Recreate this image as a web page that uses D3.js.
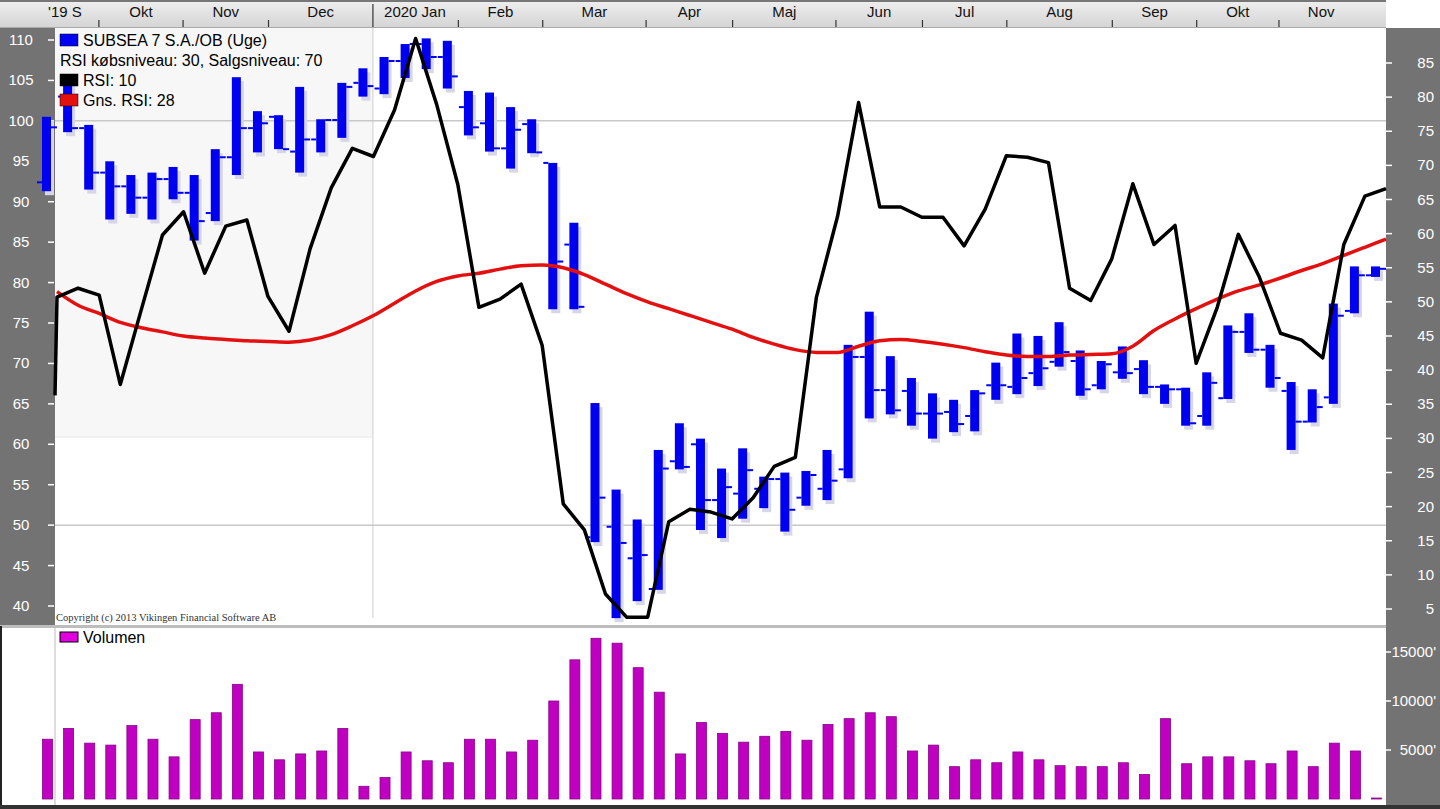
<!DOCTYPE html>
<html><head><meta charset="utf-8">
<script src="https://cdn.jsdelivr.net/npm/d3@7"></script>
<style>body{margin:0;background:#fff;overflow:hidden}text{font-family:"Liberation Sans",Arial,sans-serif}</style>
</head><body><div id="chart"></div>
<script>
// weekly OHLC, Sep 2019 - Nov 2020
const opens  = [92.4,103,99.1,93.6,91.9,90.5,92.8,91.1,88.6,95.5,99.1,100.5,96.2,97.7,100.1,104.7,104.0,107.4,109.5,107.9,101.7,99.7,96.6,99.6,94.8,84.7,48.5,49.8,45.9,42.1,57.9,60.0,53.1,53.9,54.5,55.7,53.4,54.5,56.9,70.8,66.7,66.6,63.8,64.0,63.5,67.3,67.1,68.8,70.2,70.3,67.3,68.9,69.3,67.1,66.8,63.5,65.7,73.9,71.7,66.6,62.8,65.8,76.5,80.9];
const highs  = [100.5,105.2,99.5,95,93.3,93.6,94.3,93.3,96.5,105.4,101.2,100.7,104.2,100.2,104.7,106.5,107.9,109.5,110.2,109.9,103.7,103.5,101.7,100.2,94.8,87.4,65.1,54.4,50.7,59.3,62.6,60.7,57,59.5,56,56.5,56.7,59.3,72.3,76.4,70.9,68.2,66.3,65.5,66.7,70.1,73.7,73.4,75.1,71.6,70.3,72.1,70.4,67.4,67,68.9,74.7,76.2,72.3,67.7,66.8,77.4,82,82];
const lows   = [91.3,98.6,91.5,87.8,88.5,87.8,90.3,85.2,87.6,93.3,96.1,96.5,93.6,96.1,97.9,103,103.3,105.3,106.4,104,98.2,96.2,94.1,96,76.7,76.7,47.9,38.5,40.6,42,56.9,49.4,48.4,50.8,52.1,49.2,52.4,53.1,55.8,63.2,63.7,62.3,60.7,61.5,61.6,65.5,66.2,67.2,69.6,66,66.8,68.1,66.2,65,62.3,62.3,65.6,71.3,67,59.3,62.7,65,76.2,80.7];
const closes = [99.2,99.1,93.6,91.9,90.5,92.8,91.1,87.6,95.5,99.1,99.7,96.5,97.7,100.1,104.2,104.3,107.4,109.5,107.9,105.5,99.2,96.6,98.9,96.1,82.6,77.0,53.4,47.8,46.3,57.0,57.2,53.1,54.7,56.8,55.7,51.9,56.2,55.5,70.8,66.7,64.2,63.8,63.8,62.5,66.3,67.3,68.2,69.4,71.4,66.8,69.9,68.8,67.1,66.8,62.6,67.6,73.9,71.7,68.2,62.8,64.6,75.9,80.9,81.7];
const rsiStart = 36.3;
const rsi    = [50.7,52.0,51.0,37.9,48.9,59.8,63.2,54.2,61.1,62.0,50.8,45.7,57.8,66.7,72.5,71.3,78.1,88.6,78.9,67.2,49.2,50.4,52.6,43.6,20.4,16.6,7.2,3.8,3.8,17.8,19.6,19.2,18.2,21.3,25.9,27.2,50.7,62.5,79.2,63.9,63.9,62.4,62.4,58.2,63.6,71.4,71.2,70.4,52.0,50.2,56.3,67.3,58.4,61.2,41.0,49.2,59.9,53.6,45.4,44.4,41.8,58.4,65.5,66.6];
const rsiAvg = [51.5,49.5,48.3,47.0,46.2,45.6,45.0,44.7,44.5,44.3,44.2,44.1,44.4,45.2,46.5,48.0,49.8,51.6,53.0,53.8,54.2,54.8,55.3,55.4,55.0,54.0,52.6,51.2,50.0,49.0,48.0,47.0,46.0,44.8,43.8,43.0,42.6,42.6,43.5,44.3,44.5,44.2,43.8,43.3,42.7,42.2,42.0,42.0,42.2,42.3,42.4,43.5,45.8,47.5,49.0,50.4,51.6,52.5,53.5,54.6,55.6,56.8,58.0,59.2];
const volume = [6100,7200,5700,5500,7500,6100,4300,8100,8800,11700,4800,4000,4600,4900,7200,1300,2200,4800,3900,3700,6100,6100,4800,6000,10000,14200,16400,15900,13400,10900,4600,7800,6700,5800,6400,6900,6000,7600,8200,8800,8400,4900,5500,3300,4000,3700,4800,4000,3400,3300,3300,3700,2500,8200,3600,4300,4300,3900,3600,4900,3300,5700,4900,100];
const priceTicks = [40,45,50,55,60,65,70,75,80,85,90,95,100,105,110];
const rsiTicks = [5,10,15,20,25,30,35,40,45,50,55,60,65,70,75,80,85];
const volTicks = [5000,10000,15000];
const monthTicks = [2.46,6.45,10.5,15.45,19.5,23.5,28.4,32.5,37.4,41.5,45.5,50.5,54.5,58.4];
const monthLabels = ["'19 S","Okt","Nov","Dec","2020 Jan","Feb","Mar","Apr","Maj","Jun","Jul","Aug","Sep","Okt","Nov"];

const W = 1440, H = 809;
const svg = d3.select('#chart').append('svg').attr('width', W).attr('height', H);

const x = d3.scaleLinear().domain([0, 63]).range([47, 1376]);
const yP = d3.scaleLinear().domain([40, 110]).range([606, 40]);
const yR = d3.scaleLinear().domain([5, 85]).range([609, 63]);
const yV = d3.scaleLinear().domain([0, 15000]).range([799, 652]);

// backgrounds
svg.append('rect').attr('x', 0).attr('y', 0).attr('width', W).attr('height', H).attr('fill', '#fff');
svg.append('rect').attr('x', 55).attr('y', 28).attr('width', x(15.45) - 55).attr('height', 409).attr('fill', '#f7f7f7');
svg.append('line').attr('x1', x(15.45)).attr('x2', x(15.45)).attr('y1', 28).attr('y2', 618).attr('stroke', '#cfcfcf');
[100, 50].forEach(v => svg.append('line').attr('x1', 55).attr('x2', 1386).attr('y1', yP(v)).attr('y2', yP(v)).attr('stroke', '#c8c8c8').attr('stroke-width', 1.5));
svg.append('line').attr('x1', 55).attr('x2', x(15.45)).attr('y1', 437).attr('y2', 437).attr('stroke', '#e6e6e6');

// left and right gray panels
svg.append('rect').attr('x', 0).attr('y', 28).attr('width', 55).attr('height', 598).attr('fill', '#737373');
svg.append('rect').attr('x', 1386).attr('y', 28).attr('width', 54).attr('height', 780).attr('fill', '#737373');

// header with months
const defs = svg.append('defs');
const g1 = defs.append('linearGradient').attr('id', 'hg').attr('x1', 0).attr('x2', 0).attr('y1', 0).attr('y2', 1);
g1.append('stop').attr('offset', 0).attr('stop-color', '#efefef');
g1.append('stop').attr('offset', 1).attr('stop-color', '#d4d4d4');
svg.append('rect').attr('x', 0).attr('y', 0).attr('width', 1386).attr('height', 28).attr('fill', 'url(#hg)');
svg.append('line').attr('x1', 0).attr('x2', 1386).attr('y1', 1).attr('y2', 1).attr('stroke', '#777').attr('stroke-width', 2);
svg.append('line').attr('x1', 0).attr('x2', 1386).attr('y1', 27.5).attr('y2', 27.5).attr('stroke', '#aaa');
svg.selectAll('.mtick').data(monthTicks).enter().append('line')
    .attr('x1', d => x(d)).attr('x2', d => x(d))
    .attr('y1', (d, i) => i === 3 ? 4 : 20).attr('y2', 27)
    .attr('stroke', '#333').attr('stroke-width', 1.2);
const labelPos = monthLabels.map((m, i) => i === 0 ? 0.85 : (i < monthTicks.length ? (monthTicks[i - 1] + monthTicks[i]) / 2 : monthTicks[i - 1] + 2));
svg.selectAll('.mlab').data(monthLabels).enter().append('text')
    .attr('x', (d, i) => i === 4 ? x(monthTicks[3]) + 42 : x(labelPos[i]))
    .attr('y', 17).attr('text-anchor', 'middle').attr('font-size', '15px').attr('fill', '#111')
    .text(d => d);

// axes labels
svg.selectAll('.pl').data(priceTicks).enter().append('text')
    .attr('x', 21).attr('y', d => yP(d) + 5).attr('text-anchor', 'middle')
    .attr('font-size', '15px').attr('fill', '#fff').text(d => d);
svg.selectAll('.pt').data(priceTicks).enter().append('line')
    .attr('x1', 48).attr('x2', 54).attr('y1', d => yP(d)).attr('y2', d => yP(d)).attr('stroke', '#fff').attr('stroke-width', 1.5);
svg.selectAll('.rl').data(rsiTicks).enter().append('text')
    .attr('x', 1434).attr('y', d => yR(d) + 5).attr('text-anchor', 'end')
    .attr('font-size', '15px').attr('fill', '#fff').text(d => d);
svg.selectAll('.rt').data(rsiTicks).enter().append('line')
    .attr('x1', 1386).attr('x2', 1392).attr('y1', d => yR(d)).attr('y2', d => yR(d)).attr('stroke', '#fff').attr('stroke-width', 1.5);

// price bars
const bars = svg.append('g');
d3.range(opens.length).forEach(i => {
    const cx = x(i);
    bars.append('rect').attr('x', cx - 2).attr('y', yP(highs[i]) + 4).attr('width', 9).attr('height', yP(lows[i]) - yP(highs[i]))
        .attr('fill', '#d6d6e6');
});
d3.range(opens.length).forEach(i => {
    const cx = x(i);
    bars.append('rect').attr('x', cx - 5).attr('y', yP(highs[i])).attr('width', 9).attr('height', Math.max(2, yP(lows[i]) - yP(highs[i])))
        .attr('fill', '#0000f0');
    bars.append('line').attr('x1', cx - 10).attr('x2', cx - 5).attr('y1', yP(opens[i])).attr('y2', yP(opens[i]))
        .attr('stroke', '#0000f0').attr('stroke-width', 2);
    bars.append('line').attr('x1', cx + 4).attr('x2', cx + 10).attr('y1', yP(closes[i])).attr('y2', yP(closes[i]))
        .attr('stroke', '#0000f0').attr('stroke-width', 2);
});

// RSI lines
const xr = i => x(i) + 10;
svg.append('path').datum(rsiAvg)
    .attr('d', d3.line().x((d, i) => xr(i)).y(d => yR(d)).curve(d3.curveMonotoneX))
    .attr('fill', 'none').attr('stroke', '#e41010').attr('stroke-width', 3.5);
const rsiPts = [[xr(0) - 2, rsiStart]].concat(rsi.map((d, i) => [xr(i), d]));
svg.append('path').datum(rsiPts)
    .attr('d', d3.line().x(d => d[0]).y(d => yR(d[1])))
    .attr('fill', 'none').attr('stroke', '#000').attr('stroke-width', 3.5).attr('stroke-linejoin', 'round');

// legend
const leg = svg.append('g').attr('font-size', '16px').attr('fill', '#000');
[['#0000f0', 'SUBSEA 7 S.A./OB (Uge)', 40], [null, 'RSI købsniveau: 30, Salgsniveau: 70', 60], ['#000', 'RSI: 10', 80], ['#e41010', 'Gns. RSI: 28', 100]]
    .forEach(([c, t, y]) => {
        if (c) leg.append('rect').attr('x', 60).attr('y', y - 6).attr('width', 18).attr('height', 12).attr('fill', c).attr('stroke', '#000').attr('stroke-width', 0.5);
        leg.append('text').attr('x', c ? 83 : 60).attr('y', y + 6).text(t);
    });
svg.append('text').attr('x', 56).attr('y', 621).attr('font-size', '10.5px')
    .style('font-family', '"Liberation Serif",serif').attr('fill', '#333')
    .text('Copyright (c) 2013 Vikingen Financial Software AB');

// volume panel
svg.append('rect').attr('x', 0).attr('y', 625).attr('width', 1386).attr('height', 3).attr('fill', '#bdbdbd');
svg.append('line').attr('x1', 55).attr('x2', 55).attr('y1', 628).attr('y2', 806).attr('stroke', '#bbb');
svg.append('line').attr('x1', 1).attr('x2', 1).attr('y1', 626).attr('y2', 806).attr('stroke', '#222').attr('stroke-width', 2);
svg.append('rect').attr('x', 0).attr('y', 805).attr('width', W).attr('height', 4).attr('fill', '#333');
svg.selectAll('.vb').data(volume).enter().append('rect')
    .attr('x', (d, i) => x(i) - 4.5).attr('y', d => yV(d)).attr('width', 10).attr('height', d => yV(0) - yV(d))
    .attr('fill', '#c000c0').attr('stroke', '#8a008a').attr('stroke-width', 0.8);
svg.selectAll('.vl').data(volTicks).enter().append('text')
    .attr('x', 1436).attr('y', d => yV(d) + 5).attr('text-anchor', 'end')
    .attr('font-size', '15px').attr('fill', '#fff').text(d => d + "'");
svg.selectAll('.vt').data(volTicks).enter().append('line')
    .attr('x1', 1386).attr('x2', 1391).attr('y1', d => yV(d)).attr('y2', d => yV(d)).attr('stroke', '#fff').attr('stroke-width', 1.5);
svg.append('rect').attr('x', 60).attr('y', 632).attr('width', 18).attr('height', 10).attr('fill', '#e000e0').attr('stroke', '#000');
svg.append('text').attr('x', 83).attr('y', 643).attr('font-size', '16px').text('Volumen');
</script></body></html>
